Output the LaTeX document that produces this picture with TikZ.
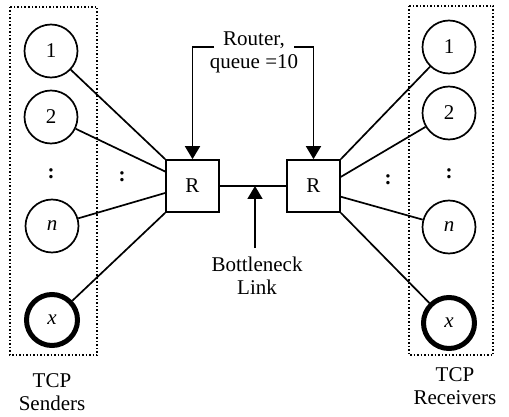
\documentclass[tikz,border=0pt]{standalone}
\usepackage{fontspec}
\setmainfont{Liberation Serif}
\usetikzlibrary{arrows.meta,calc}
\tikzset{
  host/.style={circle,draw,line width=1.7pt,minimum size=53pt,inner sep=0pt,font=\fontsize{21}{24}\selectfont},
  hostx/.style={circle,draw,line width=5pt,minimum size=51pt,inner sep=0pt,font=\fontsize{21}{24}\selectfont},
  router/.style={rectangle,draw,line width=1.7pt,minimum width=53pt,minimum height=52pt,inner sep=0pt,font=\fontsize{21}{24}\selectfont},
  group/.style={draw,dotted,line width=1.5pt},
  link/.style={line width=1.7pt},
  arr/.style={line width=1.7pt,-{Triangle[length=13pt,width=15pt]}},
  lbl/.style={align=center,font=\fontsize{21}{23}\selectfont,inner sep=0pt},
  dots/.style={font=\fontsize{21}{24}\selectfont\bfseries,inner sep=0pt}
}
\begin{document}
\begin{tikzpicture}[x=1pt,y=-1pt]
\useasboundingbox (0,0) rectangle (509,417);
% groups
\draw[group] (10,7) rectangle (97,355);
\draw[group] (409,6) rectangle (493,355);
% senders
\node[host] (s1) at (51,51) {1};
\node[host] (s2) at (51,117) {2};
\node[dots] (sd) at (51,174) {:};
\node[host] (sn) at (52,226) {\itshape n};
\node[hostx] (sx) at (52,320) {\itshape x};
\node[dots] (sb) at (122,177) {:};
% receivers
\node[host] (r1) at (449,47) {1};
\node[host] (r2) at (449,113) {2};
\node[dots] (rd) at (449,174) {:};
\node[host] (rn) at (449,227) {\itshape n};
\node[hostx] (rx) at (449,323) {\itshape x};
\node[dots] (rb) at (388,180) {:};
% routers
\node[router] (R1) at (192.5,186) {R};
\node[router] (R2) at (313.5,186) {R};
\draw[link] (R1) -- (R2);
% sender links
\draw[link] (s1) -- (R1.north west);
\draw[link] (s2) -- ($(R1.north west)!0.23!(R1.south west)$);
\draw[link] (sn) -- ($(R1.north west)!0.63!(R1.south west)$);
\draw[link] (sx) -- (R1.south west);
% receiver links
\draw[link] (R2.north east) -- (r1);
\draw[link] ($(R2.north east)!0.33!(R2.south east)$) -- (r2);
\draw[link] ($(R2.north east)!0.7!(R2.south east)$) -- (rn);
\draw[link] (R2.south east) -- (rx);
% router label
\node[lbl] (rt) at (254,52) {Router,\\queue =10};
\coordinate (rtl) at (214,47);
\coordinate (rtr) at (294,47);
\draw[arr] (rtl) -| (R1.north);
\draw[arr] (rtr) -| (R2.north);
% bottleneck label
\node[lbl] (bn) at (257,276) {Bottleneck\\Link};
\coordinate (bnt) at (255,186);
\coordinate (bnb) at (255,248);
\draw[arr] (bnb) -- (bnt);
% group labels
\node[lbl] (snd) at (52,392) {TCP\\Senders};
\node[lbl] (rcv) at (455,386) {TCP\\Receivers};
\end{tikzpicture}
\end{document}
